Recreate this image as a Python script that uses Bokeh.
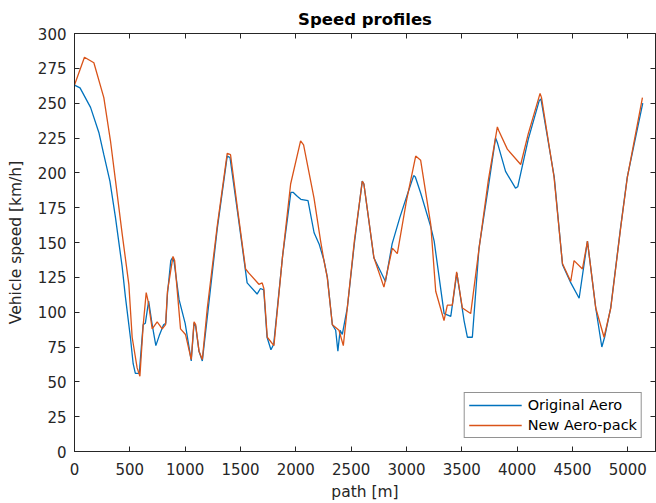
from bokeh.plotting import figure
from bokeh.models import (LinearAxis, Range1d, Legend, LegendItem, FixedTicker, ColumnDataSource,
                          CustomJSTickFormatter)
from bokeh.embed import file_html
from bokeh.resources import INLINE

# ---- data ----
orig_x = [0, 50, 145, 220, 265, 320, 370, 430, 460, 505, 530, 550, 585, 620, 640, 670, 700, 735, 765,
          805, 825, 840, 870, 885, 900, 945, 1000, 1055, 1080, 1095, 1125, 1155, 1205, 1290, 1380, 1405,
          1480, 1560, 1650, 1680, 1710, 1740, 1775, 1800, 1880, 1955, 1975, 2015, 2045, 2110, 2165, 2210,
          2255, 2285, 2330, 2360, 2380, 2400, 2420, 2465, 2530, 2600, 2615, 2705, 2810, 2870, 2940, 3010,
          3065, 3080, 3130, 3220, 3250, 3340, 3400, 3455, 3520, 3550, 3595, 3655, 3740, 3805, 3820, 3895,
          3985, 4005, 4100, 4200, 4215, 4335, 4410, 4485, 4560, 4635, 4710, 4765, 4790, 4845, 4935, 4995,
          5135]
orig_v = [263, 261, 247, 229, 213, 194, 168, 133, 111, 82, 63, 56, 56, 91, 92, 108, 92, 76, 83,
          91, 92, 113, 137, 139, 136, 109, 92, 65, 92, 90, 72, 65, 100, 160, 212, 211,
          168, 121, 113, 117, 116, 82, 73, 77, 140, 186, 186, 183, 181, 180, 157, 149,
          137, 125, 91, 87, 72, 87, 84, 103, 150, 194, 192, 139, 122, 149, 168, 185,
          198, 197, 185, 161, 151, 99, 97, 128, 94, 82, 82, 146, 190, 225, 222, 201,
          189, 190, 224, 252, 253, 197, 134, 121, 110, 151, 103, 75, 82, 103, 161, 197,
          250]

new_x = [0, 90, 175, 265, 325, 371, 431, 491, 521, 566, 591, 621, 648, 665, 702, 747, 793, 823, 840,
         890, 905, 958, 1003, 1055, 1080, 1095, 1125, 1155, 1200, 1290, 1380, 1410, 1480, 1546, 1576,
         1666, 1696, 1711, 1742, 1802, 1880, 1953, 2043, 2070, 2164, 2224, 2254, 2284, 2330, 2390, 2429,
         2465, 2530, 2601, 2615, 2706, 2796, 2872, 2917, 3000, 3083, 3128, 3219, 3264, 3339, 3369, 3414,
         3453, 3505, 3580, 3656, 3740, 3821, 3835, 3911, 4032, 4100, 4207, 4220, 4333, 4409, 4484, 4514,
         4590, 4635, 4710, 4785, 4846, 4936, 4996, 5132]
new_v = [263, 283, 279, 254, 223, 194, 156, 120, 82, 60, 54, 91, 114, 108, 88, 93, 88, 91, 115,
         140, 137, 88, 84, 66, 93, 91, 72, 66, 103, 162, 214, 213, 170, 131, 128,
         120, 121, 117, 82, 76, 140, 192, 223, 220, 182, 151, 137, 125, 91, 87, 76,
         103, 152, 194, 192, 139, 118, 146, 142, 180, 212, 209, 163, 115, 94, 105, 105,
         129, 103, 99, 146, 195, 233, 230, 217, 206, 228, 257, 254, 197, 135, 122, 137,
         131, 151, 103, 82, 103, 161, 197, 254]

x_ticks = [0, 500, 1000, 1500, 2000, 2500, 3000, 3500, 4000, 4500, 5000]
y_ticks = [0, 25, 50, 75, 100, 125, 150, 175, 200, 225, 250, 275, 300]
series_names = ["Original Aero", "New Aero-pack"]
title_text = "Speed profiles"
x_label = "path [m]"
y_label = "Vehicle speed [km/h]"

AX = "#262626"
FONT = "DejaVu Sans"

p = figure(width=656, height=503, x_range=Range1d(0, 5250), y_range=Range1d(0, 300),
           output_backend="svg", toolbar_location=None,
           min_border_left=74, min_border_right=1, min_border_top=33, min_border_bottom=52)

p.title.text = title_text
p.title.align = "center"
p.title.text_font = FONT
p.title.text_font_size = "16.5px"
p.title.text_font_style = "bold"
p.title.text_color = "#000000"

p.xgrid.visible = False
p.ygrid.visible = False
p.outline_line_color = AX
p.background_fill_color = "white"

for ax, ticks, lab in ((p.xaxis[0], x_ticks, x_label), (p.yaxis[0], y_ticks, y_label)):
    ax.ticker = FixedTicker(ticks=ticks)
    ax.axis_label = lab
    ax.axis_label_text_font = FONT
    ax.axis_label_text_font_size = "15.5px"
    ax.axis_label_text_font_style = "normal"
    ax.axis_label_text_color = AX
    ax.major_label_text_font = FONT
    ax.major_label_text_font_size = "15px"
    ax.major_label_text_color = AX
    ax.axis_line_color = AX
    ax.major_tick_line_color = AX
    ax.major_tick_in = 5
    ax.major_tick_out = 0
    ax.minor_tick_line_color = None
p.xaxis[0].major_label_standoff = 11
p.yaxis[0].major_label_standoff = 8
p.xaxis[0].axis_label_standoff = 5
p.yaxis[0].axis_label_standoff = 10

blank = CustomJSTickFormatter(code="return ''")
top = LinearAxis(ticker=FixedTicker(ticks=x_ticks), formatter=blank,
                 major_tick_in=5, major_tick_out=0, minor_tick_line_color=None,
                 axis_line_color=AX, major_tick_line_color=AX, major_label_standoff=0)
right = LinearAxis(ticker=FixedTicker(ticks=y_ticks), formatter=blank,
                   major_tick_in=5, major_tick_out=0, minor_tick_line_color=None,
                   axis_line_color=AX, major_tick_line_color=AX, major_label_standoff=0)
p.add_layout(top, "above")
p.add_layout(right, "right")

src_o = ColumnDataSource(dict(x=orig_x, y=orig_v))
src_n = ColumnDataSource(dict(x=new_x, y=new_v))
r1 = p.line("x", "y", source=src_o, line_color="#0072BD", line_width=1.3)
r2 = p.line("x", "y", source=src_n, line_color="#D95319", line_width=1.3)

legend = Legend(items=[LegendItem(label=series_names[0], renderers=[r1]),
                       LegendItem(label=series_names[1], renderers=[r2])],
                location="bottom_right", margin=13, padding=4, spacing=4,
                glyph_width=53, glyph_height=16, label_height=16, label_standoff=6,
                label_text_font=FONT, label_text_font_size="14.5px", label_text_color="#000000",
                border_line_color=AX, border_line_width=1,
                background_fill_color="white", background_fill_alpha=1.0)
p.add_layout(legend)

open("out.html", "w").write(file_html(p, INLINE))
